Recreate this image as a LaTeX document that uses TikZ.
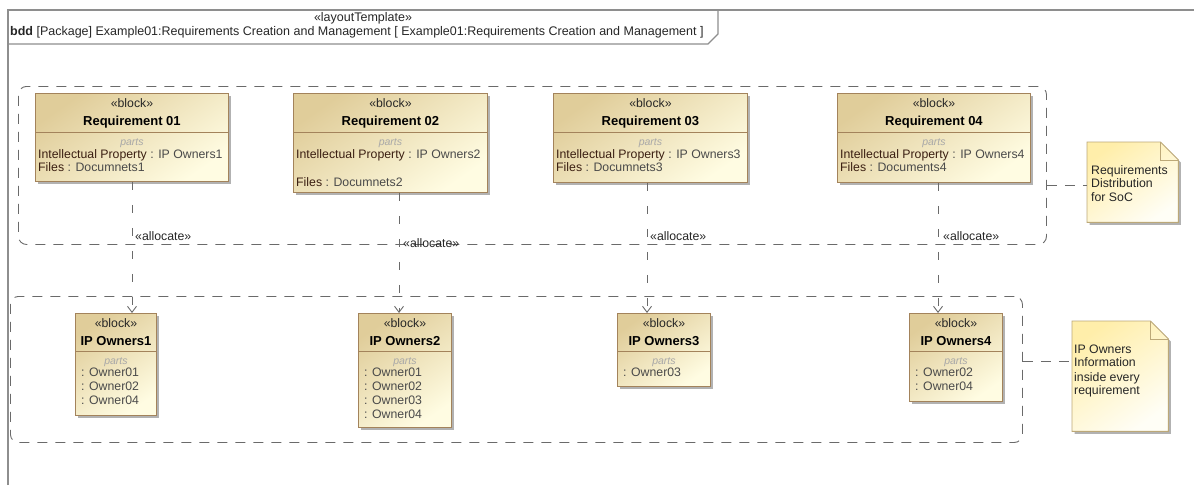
\documentclass[tikz,border=0pt]{standalone}
\usepackage{fontspec}
\setmainfont{Liberation Sans}
\usetikzlibrary{arrows.meta,shadows,calc}

\definecolor{blockdark}{HTML}{E0CD9A}
\definecolor{blocklight}{HTML}{FFFCE2}
\definecolor{blockedge}{HTML}{A3835B}
\definecolor{notedark}{HTML}{FFEEAA}
\definecolor{notelight}{HTML}{FFFEF6}
\definecolor{noteedge}{HTML}{BCA878}
\definecolor{propname}{HTML}{3B1F12}
\definecolor{typetext}{HTML}{4A4A4A}
\definecolor{partsgray}{HTML}{A8A8A8}
\definecolor{linegray}{HTML}{6A6A6A}
\definecolor{framegray}{HTML}{8E8E8E}

\tikzset{
  txt/.style={inner sep=0pt, text height=9pt, text depth=2.5pt, font=\fontsize{12.3}{14}\selectfont},
  blockbox/.style={draw=blockedge, line width=0.9pt, top color=blockdark, bottom color=blocklight,
    shading angle=35, anchor=north west, inner sep=0pt,
    drop shadow={shadow xshift=2.5pt, shadow yshift=-2.5pt, opacity=0.3, fill=black}},
  divline/.style={draw=blockedge, line width=0.9pt},
  stereo/.style={txt, text=black!85},
  titletext/.style={txt, font=\fontsize{13}{15}\selectfont\bfseries},
  partslabel/.style={txt, font=\fontsize{10.5}{12}\selectfont\itshape, text=partsgray},
  partline/.style={txt, anchor=west, text=typetext},
  groupbox/.style={draw=linegray, line width=0.9pt, dash pattern=on 10pt off 8pt,
    rounded corners=8pt, anchor=north west, inner sep=0pt},
  alloc/.style={draw=linegray, line width=0.9pt, dash pattern=on 8pt off 15pt,
    -{Straight Barb[length=6pt, width=9pt]}},
  alloclabel/.style={txt, anchor=west, text=black!85},
  notelink/.style={draw=linegray, line width=0.9pt, dash pattern=on 10pt off 8pt},
  notebox/.style={inner sep=0pt, anchor=north west},
  noteshape/.style={draw=noteedge, line width=0.9pt, top color=notedark, bottom color=notelight,
    shading angle=35, drop shadow={shadow xshift=2.5pt, shadow yshift=-2.5pt, opacity=0.3, fill=black}},
  notetext/.style={txt, anchor=west, text=black!85},
  frameline/.style={draw=framegray, line width=1.2pt},
  tabtext/.style={txt, font=\fontsize{12.5}{14}\selectfont, text=black!85},
}

% stereotype, name, compartment line and "parts" caption of a block
\newcommand\blockhead[3]{%
  \node[stereo] at ($(#1.north)+(0,11)$) {«block»};
  \node[titletext] at ($(#1.north)+(0,29)$) {#2};
  \draw[divline] ($(#1.north west)+(0,#3)$) -- ($(#1.north east)+(0,#3)$);
  \node[partslabel] at ($(#1.north)+(0,#3+10)$) {parts};
}

% note with a folded top right corner
\newcommand\notepaper[1]{%
  \path[noteshape] (#1.north west) -- ($(#1.north east)+(-18,0)$) -- ($(#1.north east)+(0,18)$)
    -- (#1.south east) -- (#1.south west) -- cycle;
  \draw[draw=noteedge, line width=0.9pt] ($(#1.north east)+(-18,0)$) -- ($(#1.north east)+(-18,18)$)
    -- ($(#1.north east)+(0,18)$);
}

\begin{document}
\begin{tikzpicture}[x=1pt, y=-1pt]
\useasboundingbox (0,0) rectangle (1194,485);

% diagram frame and its name tab
\draw[frameline] (8,485) -- (8,10) -- (1194,10);
\draw[frameline] (8,44) -- (708,44) -- (718,34) -- (718,10);
\node[tabtext] (tabstereo) at (363,18) {«layoutTemplate»};
\node[tabtext, anchor=west] (tabname) at (10,32)
  {\textbf{bdd} [Package] Example01:Requirements Creation and Management [ Example01:Requirements Creation and Management ]};

% groups
\node[groupbox, minimum width=1028pt, minimum height=158pt] (g1) at (18,86) {};
\node[groupbox, minimum width=1012pt, minimum height=146pt] (g2) at (10,296) {};

% requirement blocks
\node[blockbox, minimum width=193pt, minimum height=88pt] (r1) at (35,93) {};
\node[blockbox, minimum width=194pt, minimum height=99pt] (r2) at (293,93) {};
\node[blockbox, minimum width=194pt, minimum height=89pt] (r3) at (553,93) {};
\node[blockbox, minimum width=193pt, minimum height=89pt] (r4) at (837,93) {};

\blockhead{r1}{Requirement 01}{39}
\blockhead{r2}{Requirement 02}{39}
\blockhead{r3}{Requirement 03}{39}
\blockhead{r4}{Requirement 04}{39}

\node[partline] at ($(r1.north west)+(3,62)$) {\textcolor{propname}{Intellectual Property} : IP Owners1};
\node[partline] at ($(r1.north west)+(3,75)$) {\textcolor{propname}{Files} : Documnets1};
\node[partline] at ($(r2.north west)+(3,62)$) {\textcolor{propname}{Intellectual Property} : IP Owners2};
\node[partline] at ($(r2.north west)+(3,90)$) {\textcolor{propname}{Files} : Documnets2};
\node[partline] at ($(r3.north west)+(3,62)$) {\textcolor{propname}{Intellectual Property} : IP Owners3};
\node[partline] at ($(r3.north west)+(3,75)$) {\textcolor{propname}{Files} : Documnets3};
\node[partline] at ($(r4.north west)+(3,62)$) {\textcolor{propname}{Intellectual Property} : IP Owners4};
\node[partline] at ($(r4.north west)+(3,75)$) {\textcolor{propname}{Files} : Documents4};

% IP owner blocks
\node[blockbox, minimum width=81pt, minimum height=102pt] (o1) at (75,313) {};
\node[blockbox, minimum width=93pt, minimum height=114pt] (o2) at (358,313) {};
\node[blockbox, minimum width=93pt, minimum height=73pt] (o3) at (617,313) {};
\node[blockbox, minimum width=93pt, minimum height=88pt] (o4) at (909,313) {};

\blockhead{o1}{IP Owners1}{38}
\blockhead{o2}{IP Owners2}{38}
\blockhead{o3}{IP Owners3}{38}
\blockhead{o4}{IP Owners4}{38}

\node[partline] at ($(o1.north west)+(6,60)$) {: Owner01};
\node[partline] at ($(o1.north west)+(6,74)$) {: Owner02};
\node[partline] at ($(o1.north west)+(6,88)$) {: Owner04};
\node[partline] at ($(o2.north west)+(6,60)$) {: Owner01};
\node[partline] at ($(o2.north west)+(6,74)$) {: Owner02};
\node[partline] at ($(o2.north west)+(6,88)$) {: Owner03};
\node[partline] at ($(o2.north west)+(6,102)$) {: Owner04};
\node[partline] at ($(o3.north west)+(6,60)$) {: Owner03};
\node[partline] at ($(o4.north west)+(6,60)$) {: Owner02};
\node[partline] at ($(o4.north west)+(6,74)$) {: Owner04};

% allocation connectors
\coordinate (a1) at (132,0);
\coordinate (a2) at (399,0);
\coordinate (a3) at (647,0);
\coordinate (a4) at (938,0);
\draw[alloc] (r1.south -| a1) -- (o1.north -| a1);
\draw[alloc] (r2.south -| a2) -- (o2.north -| a2);
\draw[alloc] (r3.south -| a3) -- (o3.north -| a3);
\draw[alloc] (r4.south -| a4) -- (o4.north -| a4);
\node[alloclabel] (l1) at (135,237) {«allocate»};
\node[alloclabel] (l2) at (403,244) {«allocate»};
\node[alloclabel] (l3) at (650,237) {«allocate»};
\node[alloclabel] (l4) at (943,237) {«allocate»};

% notes
\node[notebox, minimum width=91pt, minimum height=80pt] (n1) at (1087,142) {};
\node[notebox, minimum width=96pt, minimum height=110pt] (n2) at (1072,321) {};
\notepaper{n1}
\notepaper{n2}
\node[notetext] at ($(n1.north west)+(4,29)$) {Requirements};
\node[notetext] at ($(n1.north west)+(4,42)$) {Distribution};
\node[notetext] at ($(n1.north west)+(4,56)$) {for SoC};
\node[notetext] at ($(n2.north west)+(2,29)$) {IP Owners};
\node[notetext] at ($(n2.north west)+(2,42)$) {Information};
\node[notetext] at ($(n2.north west)+(2,57)$) {inside every};
\node[notetext] at ($(n2.north west)+(2,70)$) {requirement};

\coordinate (k1) at ($(n1.north west)+(0,43)$);
\coordinate (k2) at ($(n2.north west)+(0,40)$);
\draw[notelink] (g1.east |- k1) -- (k1);
\draw[notelink] (g2.east |- k2) -- (k2);
\end{tikzpicture}
\end{document}
